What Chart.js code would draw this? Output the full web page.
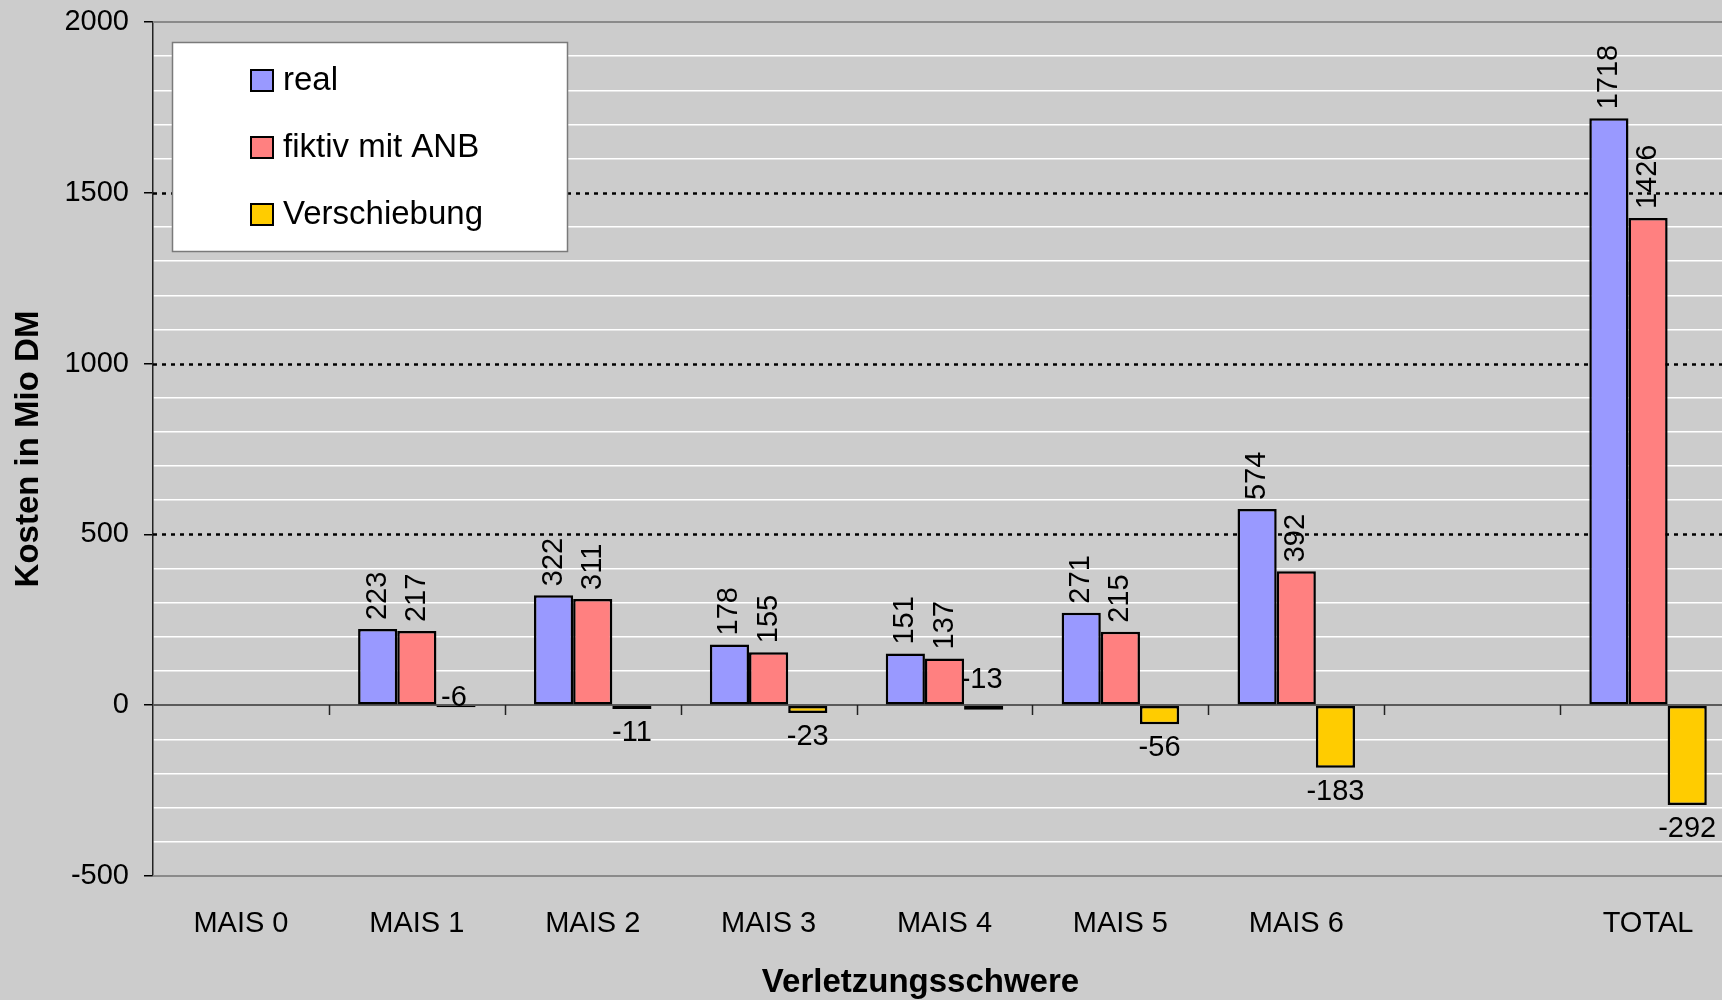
<!DOCTYPE html>
<html>
<head>
<meta charset="utf-8">
<title>Kosten nach Verletzungsschwere</title>
<script src="https://cdn.jsdelivr.net/npm/chart.js@4.4.1/dist/chart.umd.min.js"></script>
<style>
  html, body { margin: 0; padding: 0; overflow: hidden; background: #cccccc; }
  #wrap { width: 1740px; height: 1000px; }
</style>
</head>
<body>
<div id="wrap"><canvas id="chart" width="1740" height="1000"></canvas></div>
<script>
// Kosten in Mio DM je MAIS-Stufe
const categories   = ['MAIS 0', 'MAIS 1', 'MAIS 2', 'MAIS 3', 'MAIS 4', 'MAIS 5', 'MAIS 6', '', 'TOTAL'];
const realValues   = [null, 223, 322, 178, 151, 271, 574, null, 1718];
const fiktivValues = [null, 217, 311, 155, 137, 215, 392, null, 1426];
const shiftValues  = [null,  -6, -11, -23, -13, -56, -183, null, -292];
const seriesNames  = ['real', 'fiktiv mit ANB', 'Verschiebung'];
const yMajorTicks  = [-500, 0, 500, 1000, 1500, 2000];

const FONT = 'Liberation Sans, Arial, sans-serif';
const BG = '#cccccc';

// Background, dotted major gridlines, zero line and plot frame
const framePlugin = {
  id: 'frame',
  beforeDraw(chart) {
    const { ctx, width, height } = chart;
    ctx.save();
    ctx.fillStyle = BG;
    ctx.fillRect(0, 0, width, height);
    ctx.restore();
  },
  beforeDatasetsDraw(chart) {
    const { ctx, chartArea: a, scales: { x, y } } = chart;
    ctx.save();
    // dotted lines at the inner major ticks
    ctx.strokeStyle = '#000';
    ctx.lineWidth = 2.5;
    ctx.setLineDash([4, 5]);
    yMajorTicks.filter(v => v !== 0 && v !== y.min && v !== y.max).forEach(v => {
      const py = Math.round(y.getPixelForValue(v)) + 0.5;
      ctx.beginPath(); ctx.moveTo(a.left, py); ctx.lineTo(a.right, py); ctx.stroke();
    });
    ctx.setLineDash([]);
    // top and bottom frame
    ctx.strokeStyle = '#8a8a8a';
    ctx.lineWidth = 2;
    [y.max, y.min].forEach(v => {
      const py = Math.round(y.getPixelForValue(v));
      ctx.beginPath(); ctx.moveTo(a.left, py); ctx.lineTo(a.right, py); ctx.stroke();
    });
    // category axis crossing at zero
    const y0 = Math.round(y.getPixelForValue(0));
    ctx.strokeStyle = '#5a5a5a';
    ctx.lineWidth = 2;
    ctx.beginPath(); ctx.moveTo(a.left, y0); ctx.lineTo(a.right, y0); ctx.stroke();
    // tick marks between categories
    ctx.strokeStyle = '#222';
    ctx.lineWidth = 1.5;
    for (let i = 1; i < categories.length; i++) {
      const px = Math.round((x.getPixelForValue(i - 1) + x.getPixelForValue(i)) / 2) + 0.5;
      ctx.beginPath(); ctx.moveTo(px, y0); ctx.lineTo(px, y0 + 10); ctx.stroke();
    }
    ctx.restore();
  }
};

// Value labels: vertical above positive bars, horizontal below negative bars
const valueLabelPlugin = {
  id: 'valueLabels',
  afterDatasetsDraw(chart, args, opts) {
    const { ctx, scales: { y } } = chart;
    const y0 = y.getPixelForValue(0);
    ctx.save();
    ctx.fillStyle = '#000';
    ctx.font = '29px ' + FONT;
    chart.data.datasets.forEach((ds, di) => {
      const meta = chart.getDatasetMeta(di);
      meta.data.forEach((bar, i) => {
        const v = ds.data[i];
        if (v === null || v === undefined) return;
        const text = String(v);
        if (v >= 0) {
          ctx.save();
          ctx.translate(bar.x, bar.y - 9);
          ctx.rotate(-Math.PI / 2);
          ctx.textAlign = 'left';
          ctx.textBaseline = 'middle';
          ctx.fillText(text, 0, 0);
          ctx.restore();
        } else {
          const raise = (opts.raised[di] || {})[i];
          ctx.textAlign = 'center';
          ctx.textBaseline = 'middle';
          if (raise !== undefined) {
            ctx.fillText(text, bar.x - 2, y0 - raise);
          } else {
            ctx.fillText(text, bar.x, bar.y + 24);
          }
        }
      });
    });
    ctx.restore();
  }
};

// Boxed legend inside the plot area, plus the category axis title
const legendBoxPlugin = {
  id: 'legendBox',
  afterDraw(chart, args, opts) {
    const { ctx, chartArea: a } = chart;
    ctx.save();
    const bx = a.left + opts.offsetX, by = a.top + opts.offsetY;
    ctx.fillStyle = '#fff';
    ctx.fillRect(bx, by, opts.width, opts.height);
    ctx.strokeStyle = '#7a7a7a';
    ctx.lineWidth = 1.5;
    ctx.strokeRect(bx + 0.5, by + 0.5, opts.width, opts.height);
    ctx.font = '33px ' + FONT;
    ctx.textBaseline = 'middle';
    ctx.textAlign = 'left';
    chart.data.datasets.forEach((ds, i) => {
      const cy = by + opts.firstRow + i * opts.rowGap;
      ctx.fillStyle = ds.backgroundColor;
      ctx.fillRect(bx + 79, cy - 10, 22, 21);
      ctx.strokeStyle = '#000';
      ctx.lineWidth = 2;
      ctx.strokeRect(bx + 79, cy - 10, 22, 21);
      ctx.fillStyle = '#000';
      ctx.fillText(ds.label, bx + 111, cy + 1);
    });
    // x axis title
    ctx.font = 'bold 33px ' + FONT;
    ctx.textAlign = 'center';
    ctx.textBaseline = 'alphabetic';
    ctx.fillText('Verletzungsschwere', (a.left + a.right) / 2 - 24, 992);
    ctx.restore();
  }
};

const barStyle = { borderColor: '#000', borderWidth: 2.5, borderSkipped: false };

new Chart(document.getElementById('chart'), {
  type: 'bar',
  data: {
    labels: categories,
    datasets: [
      Object.assign({ label: seriesNames[0], data: realValues,   backgroundColor: '#9999ff' }, barStyle),
      Object.assign({ label: seriesNames[1], data: fiktivValues, backgroundColor: '#ff8080' }, barStyle),
      Object.assign({ label: seriesNames[2], data: shiftValues,  backgroundColor: '#ffcc00' }, barStyle)
    ]
  },
  plugins: [framePlugin, valueLabelPlugin, legendBoxPlugin],
  options: {
    responsive: false,
    animation: false,
    events: [],
    devicePixelRatio: 1,
    layout: { padding: { top: 22, right: 4, bottom: 0, left: 0 } },
    datasets: { bar: { categoryPercentage: 0.668, barPercentage: 1.0 } },
    plugins: {
      legend: { display: false },
      tooltip: { enabled: false },
      valueLabels: { raised: { 2: { 1: 7, 4: 25 } } },
      legendBox: { offsetX: 19, offsetY: 20, width: 395, height: 209, firstRow: 38, rowGap: 67 }
    },
    scales: {
      x: {
        offset: true,
        grid: { display: false },
        border: { display: false },
        ticks: {
          color: '#000',
          font: { family: FONT, size: 29 },
          padding: 23,
          maxRotation: 0,
          autoSkip: false
        },
        afterFit(s) { s.height = 124; s.paddingLeft = 0; s.paddingRight = 0; }
      },
      y: {
        min: -500,
        max: 2000,
        afterBuildTicks(s) {
          const t = [];
          for (let v = s.min; v <= s.max; v += 100) t.push({ value: v });
          s.ticks = t;
        },
        grid: {
          color: c => (yMajorTicks.includes(c.tick.value) ? 'rgba(0,0,0,0)' : '#ffffff'),
          lineWidth: 1.5,
          tickColor: c => (yMajorTicks.includes(c.tick.value) ? '#000' : 'rgba(0,0,0,0)'),
          tickLength: 9,
          drawTicks: true
        },
        border: { display: true, color: '#222', width: 1.5 },
        ticks: {
          color: '#000',
          font: { family: FONT, size: 29 },
          padding: 15,
          autoSkip: false,
          callback: v => (yMajorTicks.includes(v) ? String(v) : '')
        },
        title: {
          display: true,
          text: 'Kosten in Mio DM',
          color: '#000',
          font: { family: FONT, size: 33, weight: 'bold', lineHeight: 1.2 },
          padding: { top: 9, bottom: 0 }
        },
        afterFit(s) { s.width = 153; s.paddingTop = 0; s.paddingBottom = 0; }
      }
    }
  }
});
</script>
</body>
</html>
